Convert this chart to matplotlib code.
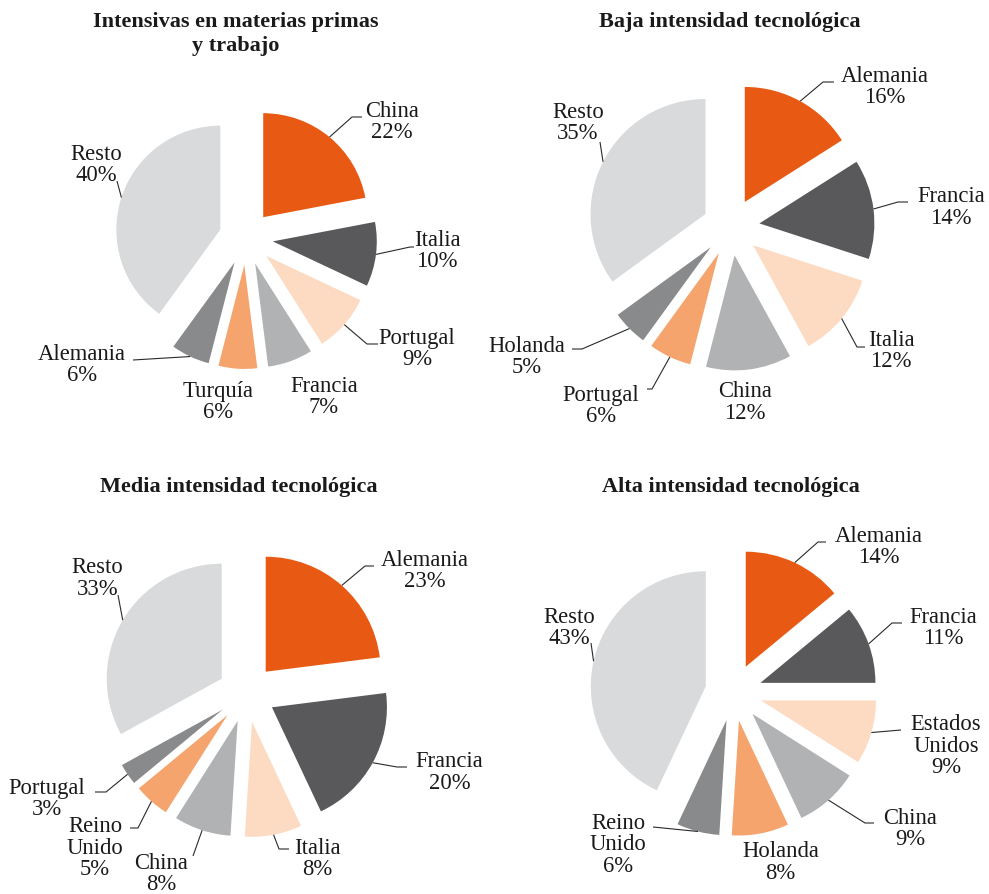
import matplotlib
matplotlib.use("Agg")
import matplotlib.pyplot as plt
import numpy as np

plt.rcParams['font.family'] = ['Liberation Serif', 'DejaVu Serif']

W, H = 989, 894

# datos (% de las exportaciones)
titulos = ["Intensivas en materias primas\ny trabajo",
           "Baja intensidad tecnológica",
           "Media intensidad tecnológica",
           "Alta intensidad tecnológica"]

paises_1 = ["China", "Italia", "Portugal", "Francia", "Turquía", "Alemania", "Resto"]
valores_1 = [22, 10, 9, 7, 6, 6, 40]

paises_2 = ["Alemania", "Francia", "Italia", "China", "Portugal", "Holanda", "Resto"]
valores_2 = [16, 14, 12, 12, 6, 5, 35]

paises_3 = ["Alemania", "Francia", "Italia", "China", "Reino Unido", "Portugal", "Resto"]
valores_3 = [23, 20, 8, 8, 5, 3, 33]

paises_4 = ["Alemania", "Francia", "Estados Unidos", "China", "Holanda", "Reino Unido", "Resto"]
valores_4 = [14, 11, 9, 9, 8, 6, 43]

colores = ["#E85A13", "#59595B", "#FDDAC2", "#B1B2B4", "#F4A46C", "#898A8C", "#D9DADC"]

# posicion de cada tarta en pixeles (x, y desde arriba), radio, separacion (px)
tartas = [
    dict(c=(246, 238), r=104, exp=27, titulo=(236, 34)),
    dict(c=(731, 227), r=115, exp=28.6, titulo=(730, 22)),
    dict(c=(246.6, 693.4), r=115, exp=28.9, titulo=(239, 487)),
    dict(c=(733.6, 692.5), r=115, exp=28.5, titulo=(730.5, 487)),
]

# posicion de las etiquetas y de las lineas guia (pixeles)
etiquetas = [
    [((392, 122), [(352, 117), (362, 117)]),
     ((437, 251), [(410, 247), (414, 247)]),
     ((417, 349), [(367, 344), (378, 344)]),
     ((324, 397), []),
     ((218, 402), []),
     ((82, 365), [(133, 360)]),
     ((96.5, 165), [(117, 181)])],
    [((885, 87), [(823, 82), (834, 82)]),
     ((951, 207.5), [(898, 202), (908, 202)]),
     ((891, 351), [(857, 347), (865, 347)]),
     ((745, 402.5), []),
     ((601, 406), [(652, 389), (647, 389)]),
     ((527, 357), [(582, 349), (572, 349)]),
     ((578, 123), [(600, 142)])],
    [((425, 571), [(365, 566), (374, 566)]),
     ((449.5, 772.5), [(397, 767), (407, 767)]),
     ((317, 859), [(279, 849), (289, 849)]),
     ((161, 874), [(193, 856)]),
     ((95, 848), [(138, 828), (130, 828)]),
     ((47, 799), [(106, 792), (95, 792)]),
     ((97.5, 578.5), [(118, 595)])],
    [((879, 547), [(818, 542), (826, 542)]),
     ((943, 628), [(892, 623), (902, 623)]),
     ((946, 746), [(901, 730)]),
     ((910.5, 829), [(865, 823), (874, 823)]),
     ((780.5, 862.5), []),
     ((618, 845), [(653, 827)]),
     ((569, 628), [(591, 643)])],
]


def yy(y):
    # de pixeles (desde arriba) a coordenadas del eje
    return H - y


fig = plt.figure(figsize=(W / 100, H / 100), dpi=100)
ax = fig.add_axes([0, 0, 1, 1])

datos = [(paises_1, valores_1), (paises_2, valores_2),
         (paises_3, valores_3), (paises_4, valores_4)]

for i, (paises, valores) in enumerate(datos):
    t = tartas[i]
    cx, cy = t['c']
    # explode va en unidades de datos (pixeles aqui)
    wedges, _ = ax.pie(valores, explode=[t['exp']] * len(valores), startangle=90,
                       counterclock=False, colors=colores, radius=t['r'],
                       center=(cx, yy(cy)), wedgeprops=dict(linewidth=0))

    ax.text(t['titulo'][0], yy(t['titulo'][1]), titulos[i], ha='center', va='center',
            fontsize=16, fontweight='bold', color='#1a1a1a', linespacing=1.33)

    for w, nombre, valor, (pos, guia) in zip(wedges, paises, valores, etiquetas[i]):
        texto = nombre.replace(" ", "\n") + "\n" + f"{valor}%"
        ax.text(pos[0], yy(pos[1]), texto, ha='center', va='center',
                multialignment='center', fontsize=16.3, color='#1a1a1a', linespacing=1.05)
        if guia:
            ang = np.deg2rad((w.theta1 + w.theta2) / 2)
            x0 = w.center[0] + w.r * np.cos(ang)
            y0 = w.center[1] + w.r * np.sin(ang)
            xs = [x0] + [p[0] for p in guia]
            ys = [y0] + [yy(p[1]) for p in guia]
            ax.plot(xs, ys, color='#2a2a2a', linewidth=0.8, solid_capstyle='butt')

ax.set_xlim(0, W)
ax.set_ylim(0, H)
ax.set_aspect('equal')
ax.axis('off')

fig.savefig("out.png", dpi=100, facecolor='white')
